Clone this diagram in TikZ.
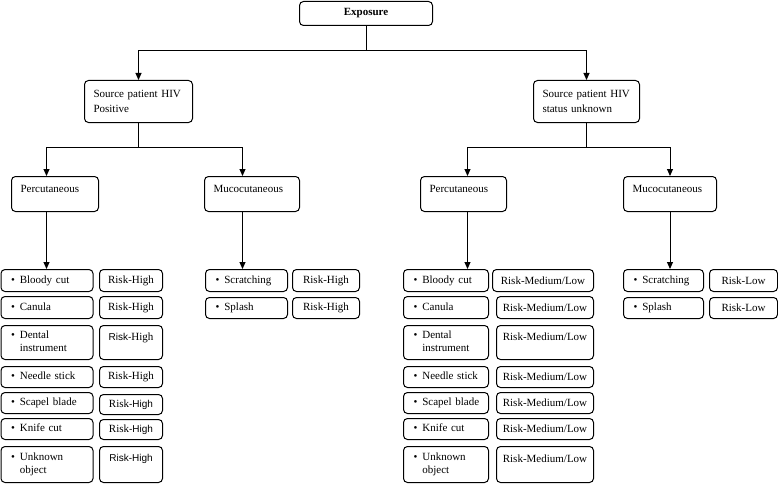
\documentclass[tikz,border=0pt]{standalone}
\usepackage{fontspec}
\setmainfont{Liberation Serif}
\newfontfamily\riskfont{Liberation Sans}
\usetikzlibrary{arrows.meta}

\tikzset{
  box/.style={draw, rounded corners=4pt, line width=1pt, inner xsep=9pt, inner ysep=2pt,
    font=\fontsize{11}{12.5}\selectfont, anchor=north west},
  item/.style={box, align=left, inner xsep=9pt, text width=#1},
  risk/.style={box, align=center, inner xsep=2pt, text width=#1},
  route/.style={box, align=left, text width=#1, minimum height=35pt, text height=11pt, text depth=14pt, inner ysep=5pt},
  arr/.style={line width=1pt, -{Triangle[width=6pt,length=7pt]}},
}
\newcommand{\bul}[1]{\mbox{\hspace{1pt}\textbullet\hspace{5pt}\begin{tabular}[t]{@{}l@{}}#1\end{tabular}}}
\newcommand{\rs}[1]{{\riskfont\fontsize{10}{12.5}\selectfont #1}}

\begin{document}
\begin{tikzpicture}[x=1pt,y=-1pt]
	\useasboundingbox (0,0) rectangle (778,484);
	% top
	\node[box, align=center, minimum width=133pt, minimum height=24pt, font=\bfseries\fontsize{11}{12.5}\selectfont] (expo) at (299,1) {Exposure};
	\node[box, align=left, text width=90pt, minimum height=42pt, font=\fontsize{11}{15}\selectfont] (pos) at (84,80) {Source patient HIV\\Positive};
	\node[box, align=left, text width=88pt, minimum height=42pt, font=\fontsize{11}{15}\selectfont] (unk) at (533,80) {Source patient HIV\\status unknown};
	\node[route=69pt] (perc1) at (11,176) {Percutaneous};
	\node[route=77pt] (muco1) at (204,176) {Mucocutaneous};
	\node[route=68pt] (perc2) at (420,176) {Percutaneous};
	\node[route=75pt] (muco2) at (623,176) {Mucocutaneous};

	% HIV positive, percutaneous
	\node[item=74pt, minimum height=22pt] (pa1) at (0.5,269) {\bul{Bloody cut}};
	\node[item=74pt, minimum height=22pt] (pa2) at (0.5,296) {\bul{Canula}};
	\node[item=74pt, minimum height=34pt] (pa3) at (0.5,325) {\bul{Dental\\instrument}};
	\node[item=74pt, minimum height=21pt] (pa4) at (0.5,366) {\bul{Needle stick}};
	\node[item=74pt, minimum height=21pt] (pa5) at (0.5,392) {\bul{Scapel blade}};
	\node[item=74pt, minimum height=21pt] (pa6) at (0.5,418) {\bul{Knife cut}};
	\node[item=74pt, minimum height=36pt] (pa7) at (0.5,446) {\bul{Unknown\\object}};
	\node[risk=59pt, minimum height=22pt] (pra1) at (99,269) {Risk-High};
	\node[risk=59pt, minimum height=22pt] (pra2) at (99,296) {Risk-High};
	\node[risk=59pt, minimum height=34pt] (pra3) at (99,325) {\rs{Risk-}High\\\mbox{}};
	\node[risk=59pt, minimum height=21pt] (pra4) at (99,366) {Risk-High};
	\node[risk=59pt, minimum height=20pt] (pra5) at (99,394) {Risk\rs{-High}};
	\node[risk=59pt, minimum height=20pt] (pra6) at (99,419) {Risk\rs{-High}};
	\node[risk=59pt, minimum height=36pt] (pra7) at (99,446) {\rs{Risk-High}\\\mbox{}};

	% HIV positive, mucocutaneous
	\node[item=64pt, minimum height=22pt] (pb1) at (205,269) {\bul{Scratching}};
	\node[item=64pt, minimum height=21pt] (pb2) at (205,297) {\bul{Splash}};
	\node[risk=63pt, minimum height=22pt] (prb1) at (292,269) {Risk-High};
	\node[risk=63pt, minimum height=21pt] (prb2) at (292,297) {Risk-High};

	% HIV unknown, percutaneous
	\node[item=67pt, minimum height=22pt] (ua1) at (403,269) {\bul{Bloody cut}};
	\node[item=67pt, minimum height=22pt] (ua2) at (403,296) {\bul{Canula}};
	\node[item=67pt, minimum height=34pt] (ua3) at (403,325) {\bul{Dental\\instrument}};
	\node[item=67pt, minimum height=21pt] (ua4) at (403,366) {\bul{Needle stick}};
	\node[item=67pt, minimum height=21pt] (ua5) at (403,392) {\bul{Scapel blade}};
	\node[item=67pt, minimum height=21pt] (ua6) at (403,418) {\bul{Knife cut}};
	\node[item=67pt, minimum height=36pt] (ua7) at (403,446) {\bul{Unknown\\object}};
	\node[risk=97pt, minimum height=22pt] (ura1) at (492,269) {Risk-Medium/Low};
	\node[risk=93pt, minimum height=22pt] (ura2) at (496,296) {Risk-Medium/Low};
	\node[risk=93pt, minimum height=34pt] (ura3) at (496,325) {Risk-Medium/Low\\\mbox{}};
	\node[risk=93pt, minimum height=21pt] (ura4) at (496,366) {Risk-Medium/Low};
	\node[risk=93pt, minimum height=21pt] (ura5) at (496,392) {Risk-Medium/Low};
	\node[risk=93pt, minimum height=21pt] (ura6) at (496,418) {Risk-Medium/Low};
	\node[risk=93pt, minimum height=36pt] (ura7) at (496,446) {Risk-Medium/Low\\\mbox{}};

	% HIV unknown, mucocutaneous
	\node[item=62pt, minimum height=22pt] (ub1) at (623,269) {\bul{Scratching}};
	\node[item=62pt, minimum height=21pt] (ub2) at (623,297) {\bul{Splash}};
	\node[risk=64pt, minimum height=22pt] (urb1) at (709,269) {Risk-Low};
	\node[risk=64pt, minimum height=21pt] (urb2) at (709,297) {Risk-Low};

	% connectors
	\draw[line width=1pt] (expo.south) -- ++(0,25) coordinate (j0);
	\draw[arr] (j0) -| (pos.north);
	\draw[arr] (j0) -| (unk.north);
	\draw[line width=1pt] (pos.south) -- ++(0,24) coordinate (j1);
	\draw[arr] (j1) -| ([xshift=-8.5pt]perc1.north);
	\draw[arr] (j1) -| ([xshift=-9.5pt]muco1.north);
	\draw[line width=1pt] (unk.south) -- ++(0,24) coordinate (j2);
	\draw[arr] (j2) -| ([xshift=4pt]perc2.north);
	\draw[arr] (j2) -| (muco2.north);
	\draw[arr] ([xshift=-8.5pt]perc1.south) -- ([xshift=-8.5pt]perc1.south |- pa1.north);
	\draw[arr] ([xshift=-9.5pt]muco1.south) -- ([xshift=-9.5pt]muco1.south |- pb1.north);
	\draw[arr] ([xshift=4pt]perc2.south) -- ([xshift=4pt]perc2.south |- ua1.north);
	\draw[arr] (muco2.south) -- (muco2.south |- ub1.north);
\end{tikzpicture}
\end{document}
